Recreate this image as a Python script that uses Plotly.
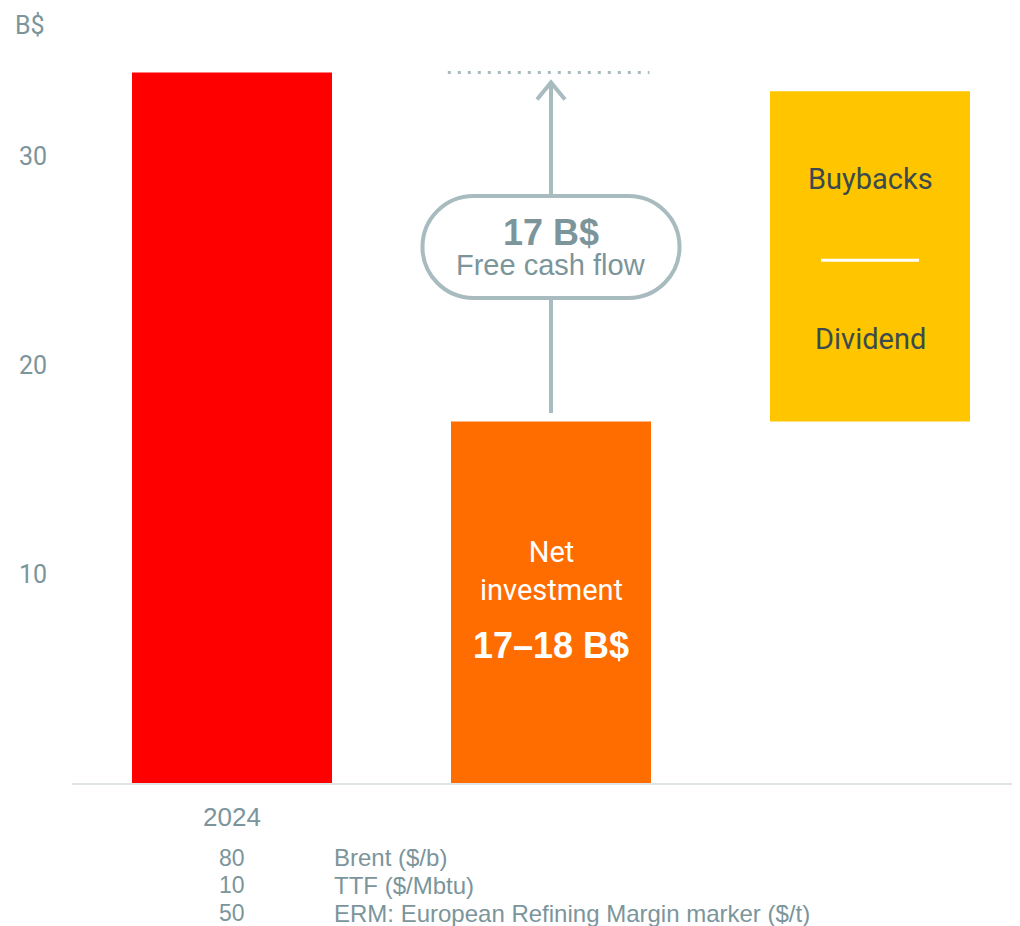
import plotly.graph_objects as go

# ---- data ----
categories = ["2024", "Net investment", "Shareholder return"]
cash_flow_2024 = 34.0          # B$
net_investment = 17.3          # 17–18 B$
shareholder_top = 33.1         # top of buybacks + dividend block
fcf_label = "17 B$"
y_ticks = [10, 20, 30]
price_values = ["80", "10", "50"]
price_labels = ["Brent ($/b)", "TTF ($/Mbtu)", "ERM: European Refining Margin marker ($/t)"]

RED = "#ff0000"
ORANGE = "#ff6d00"
YELLOW = "#ffc600"
GREY_TXT = "#7b959b"
GREY_LINE = "#a8bbbf"
DARK_TXT = "#3b4a4f"

xpos = [0, 1, 2]
bar_w = 0.627
PX_PER_UNIT = 20.9
plot_h = 775.0
plot_w = 956.0

fig = go.Figure()
fig.add_trace(go.Bar(x=[xpos[0]], y=[cash_flow_2024], base=[0], width=bar_w,
                     marker=dict(color=RED, line=dict(width=0)), hoverinfo="skip"))
fig.add_trace(go.Bar(x=[xpos[1]], y=[net_investment], base=[0], width=bar_w,
                     marker=dict(color=ORANGE, line=dict(width=0)), hoverinfo="skip"))
fig.add_trace(go.Bar(x=[xpos[2]], y=[shareholder_top - net_investment], base=[net_investment],
                     width=bar_w, marker=dict(color=YELLOW, line=dict(width=0)), hoverinfo="skip"))

shapes = []
# dotted reference line at 2024 level
shapes.append(dict(type="line", xref="x", yref="y", x0=xpos[1] - bar_w / 2 - 0.01,
                   x1=xpos[1] + bar_w / 2 - 0.005, y0=cash_flow_2024, y1=cash_flow_2024,
                   line=dict(color=GREY_LINE, width=3, dash="3px,7px")))
# arrow shaft
shapes.append(dict(type="line", xref="x", yref="y", x0=xpos[1], x1=xpos[1],
                   y0=net_investment + 0.4, y1=cash_flow_2024 - 0.45,
                   line=dict(color=GREY_LINE, width=4)))
# arrow head (chevron)
shapes.append(dict(type="path", xref="x", yref="y", xsizemode="pixel", ysizemode="pixel",
                   xanchor=xpos[1], yanchor=cash_flow_2024,
                   path="M -14,-27 L 0,-10 L 14,-27",
                   line=dict(color=GREY_LINE, width=4)))
# pill
k = 0.5523 * 51
pill = (f"M -77.5,51 L 77.5,51 C {77.5 + k},51 128.5,{k} 128.5,0 "
        f"C 128.5,{-k} {77.5 + k},-51 77.5,-51 L -77.5,-51 "
        f"C {-77.5 - k},-51 -128.5,{-k} -128.5,0 C -128.5,{k} {-77.5 - k},51 -77.5,51 Z")
pill_y = (net_investment + cash_flow_2024) / 2
shapes.append(dict(type="path", xref="x", yref="y", xsizemode="pixel", ysizemode="pixel",
                   xanchor=xpos[1], yanchor=pill_y, path=pill, fillcolor="white",
                   line=dict(color=GREY_LINE, width=4), layer="above"))
# divider in yellow block
yellow_mid = (net_investment + shareholder_top) / 2
shapes.append(dict(type="line", xref="x", yref="y", xsizemode="pixel", ysizemode="pixel",
                   xanchor=xpos[2], yanchor=yellow_mid, x0=-49, x1=49, y0=-4, y1=-4,
                   line=dict(color="white", width=3)))

ann = []
ann.append(dict(x=xpos[1], y=pill_y, xref="x", yref="y", yshift=14, showarrow=False,
                text=f"<b>{fcf_label}</b>",
                font=dict(family="Liberation Sans", size=36, color=GREY_TXT)))
ann.append(dict(x=xpos[1], y=pill_y, xref="x", yref="y", yshift=-18, showarrow=False,
                text="Free cash flow",
                font=dict(family="Liberation Sans", size=29, color=GREY_TXT)))
ann.append(dict(x=xpos[2], y=yellow_mid, xref="x", yref="y", yshift=77, showarrow=False,
                text="Buybacks", font=dict(family="Roboto", size=29, color=DARK_TXT)))
ann.append(dict(x=xpos[2], y=yellow_mid, xref="x", yref="y", yshift=-83, showarrow=False,
                text="Dividend", font=dict(family="Roboto", size=29, color=DARK_TXT)))
ann.append(dict(x=xpos[1], y=net_investment / 2, xref="x", yref="y", yshift=31, showarrow=False,
                text="Net<br>investment", font=dict(family="Roboto", size=29, color="white")))
ann.append(dict(x=xpos[1], y=net_investment / 2, xref="x", yref="y", yshift=-43, showarrow=False,
                text="<b>17–18 B$</b>", font=dict(family="Liberation Sans", size=36, color="white")))
ann.append(dict(x=(22 - 64) / plot_w, y=(775 - 17) / plot_h, xref="paper", yref="paper",
                showarrow=False, xanchor="center", yanchor="middle",
                text="B$", font=dict(family="Roboto", size=25, color=GREY_TXT)))

row_px = [850, 877, 905]   # centres in figure pixels
for v, lab, py in zip(price_values, price_labels, row_px):
    yp = (plot_h - py) / plot_h
    ann.append(dict(x=xpos[0], y=yp, xref="x", yref="paper", showarrow=False,
                    xanchor="center", yanchor="middle",
                    text=v, font=dict(family="Liberation Sans", size=23, color=GREY_TXT)))
    ann.append(dict(x=0.313, y=yp, xref="x", yref="paper", showarrow=False,
                    xanchor="left", yanchor="middle",
                    text=lab, font=dict(family="Liberation Sans", size=24, color=GREY_TXT)))

x_left = -(232 - 72) / 319
fig.update_layout(
    width=1020, height=918,
    margin=dict(l=64, r=0, t=0, b=143),
    paper_bgcolor="white", plot_bgcolor="white",
    showlegend=False, barmode="overlay",
    shapes=shapes, annotations=ann,
    xaxis=dict(range=[x_left, x_left + plot_w / 319], showgrid=False, zeroline=False,
               showline=True, linecolor="#dfe5e7", linewidth=2,
               tickvals=[xpos[0]], ticktext=[categories[0]], ticks="",
               ticklabelstandoff=10,
               tickfont=dict(family="Liberation Sans", size=26, color=GREY_TXT)),
    yaxis=dict(range=[0, plot_h / PX_PER_UNIT], showgrid=False, zeroline=False, showline=False,
               tickvals=y_ticks, ticks="", ticklabelstandoff=24,
               tickfont=dict(family="Roboto", size=25, color=GREY_TXT)),
)

fig.write_html("out.html")
